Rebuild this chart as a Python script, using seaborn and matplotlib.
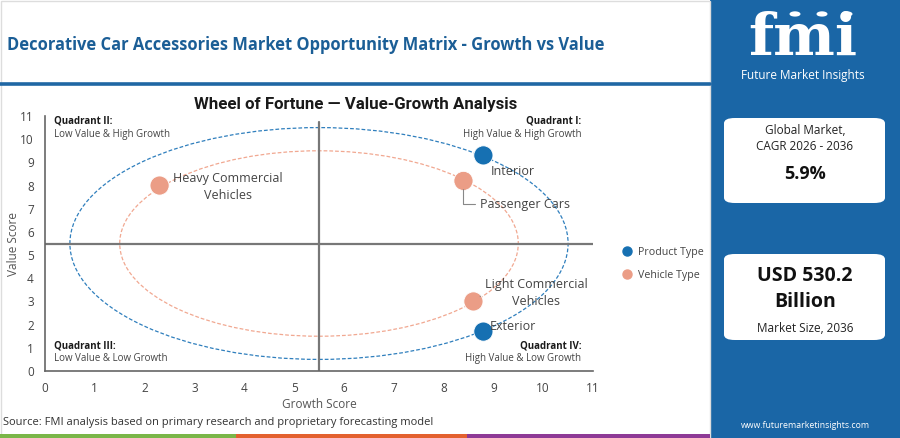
'''
Opportunity matrix (growth vs value) for decorative car accessories
'''
import matplotlib
matplotlib.use('Agg')
import matplotlib.pyplot as plt
from matplotlib.patches import Circle, Rectangle, FancyBboxPatch
from matplotlib.lines import Line2D
import seaborn as sns
import pandas as pd

sns.set_theme(style='white')
plt.rcParams['font.family'] = ['Open Sans', 'DejaVu Sans']

# data
segments = ['Interior', 'Exterior', 'Passenger Cars',
            'Light Commercial\nVehicles', 'Heavy Commercial\nVehicles']
groups = ['Product Type', 'Product Type', 'Vehicle Type',
          'Vehicle Type', 'Vehicle Type']
growth_scores = [8.8, 8.8, 8.4, 8.6, 2.3]
value_scores = [9.3, 1.7, 8.2, 3.0, 8.0]

# label anchors (data units)
label_x = [8.94, 8.92, 8.73, 9.86, 3.67]
label_y = [8.62, 1.94, 7.20, 3.36, 7.93]
label_ha = ['left', 'left', 'left', 'center', 'center']
label_leader = [False, False, True, True, False]

group_names = ['Product Type', 'Vehicle Type']
group_colors = ['#1670b2', '#eb9d86']
ring_colors = ['#2f7fbd', '#f1a891']
ring_radius = [5.0, 4.0]
midpoint = 5.5
ticks = list(range(0, 12))

quadrant_titles = ['Quadrant I:', 'Quadrant II:', 'Quadrant III:', 'Quadrant IV:']
quadrant_notes = ['High Value & High Growth', 'Low Value & High Growth',
                  'Low Value & Low Growth', 'High Value & Low Growth']

df = pd.DataFrame({'Segment': segments, 'Group': groups,
                   'Growth': growth_scores, 'Value': value_scores})

fig = plt.figure(figsize=(9, 4.38), dpi=100)
fig.patch.set_facecolor('white')

# side panel and header decoration
fig.add_artist(Rectangle((710 / 900, 0), 190 / 900, 1, transform=fig.transFigure,
                         facecolor='#1a66a6', edgecolor='none', zorder=0))
fig.add_artist(Rectangle((0.001, 0.001), 709 / 900, 0.997, transform=fig.transFigure,
                         facecolor='none', edgecolor='#dddddd', lw=1, zorder=0))
fig.add_artist(Line2D([0, 710 / 900], [1 - 84 / 438] * 2, transform=fig.transFigure,
                      color='#1f67a4', lw=2.6))
strip = [('#7ab648', 0, 236), ('#e3612f', 236, 467), ('#8e3a96', 467, 710)]
for col, x0, x1 in strip:
    fig.add_artist(Rectangle((x0 / 900, 0), (x1 - x0) / 900, 4.5 / 438,
                             transform=fig.transFigure, facecolor=col,
                             edgecolor='none'))

fig.text(7 / 900, 1 - 45 / 438,
         'Decorative Car Accessories Market Opportunity Matrix - Growth vs Value',
         color='#1b5e96', fontsize=11.9, fontweight='bold', va='center', ha='left')
fig.text(356 / 900, 1 - 105 / 438, 'Wheel of Fortune \u2014 Value-Growth Analysis',
         family=['Roboto', 'DejaVu Sans'], fontsize=12.2, fontweight='bold',
         color='#1a1a1a', ha='center', va='center')
fig.text(3 / 900, 1 - 422 / 438,
         'Source: FMI analysis based on primary research and proprietary forecasting model',
         fontsize=8, color='#333333', va='center', ha='left')

# logo
fig.text(803 / 900, 1 - 55 / 438, 'fmi', family=['DejaVu Serif'], fontsize=42,
         fontweight='bold', color='white', ha='center', va='baseline')
for yy in range(17, 58, 4):
    fig.add_artist(Line2D([730 / 900, 880 / 900], [1 - yy / 438] * 2,
                          transform=fig.transFigure, color='#1a66a6', lw=0.9))
for cx in [795, 822, 847]:
    fig.add_artist(Circle((cx / 900, 1 - 14 / 438), 5.5 / 900, transform=fig.transFigure,
                          facecolor='white', edgecolor='none'))
fig.text(803 / 900, 1 - 75 / 438, 'Future Market Insights', fontsize=8.5,
         color='white', ha='center', va='center')

# KPI boxes
for y0, y1 in [(118, 203), (254, 340)]:
    fig.add_artist(FancyBboxPatch((724 / 900, 1 - y1 / 438), 161 / 900, (y1 - y0) / 438,
                                  boxstyle='round,pad=0,rounding_size=0.012',
                                  transform=fig.transFigure, facecolor='white',
                                  edgecolor='none'))
fig.text(805 / 900, 1 - 131 / 438, 'Global Market,', fontsize=8.5, color='#222222',
         ha='center', va='center')
fig.text(805 / 900, 1 - 147 / 438, 'CAGR 2026 - 2036', fontsize=8.5, color='#222222',
         ha='center', va='center')
fig.text(805 / 900, 1 - 174 / 438, '5.9%', fontsize=13, fontweight='bold',
         color='#111111', ha='center', va='center')
fig.text(805 / 900, 1 - 276 / 438, 'USD 530.2', fontsize=14, fontweight='bold',
         color='#111111', ha='center', va='center')
fig.text(805 / 900, 1 - 302 / 438, 'Billion', fontsize=14, fontweight='bold',
         color='#111111', ha='center', va='center')
fig.text(805 / 900, 1 - 328 / 438, 'Market Size, 2036', fontsize=8.5, color='#222222',
         ha='center', va='center')
fig.text(805 / 900, 1 - 426 / 438, 'www.futuremarketinsights.com', fontsize=6.3,
         color='white', ha='center', va='center')

# main axes
ax = fig.add_axes([45 / 900, 1 - 371 / 438, 548 / 900, 255 / 438])
ax.set_xlim(0, 11)
ax.set_ylim(0, 11)

for r, col in zip(ring_radius, ring_colors):
    ax.add_patch(Circle((midpoint, midpoint), r, facecolor='none', edgecolor=col,
                        lw=0.9, ls=(0, (3, 1.6)), zorder=1))

ax.axhline(midpoint, color='#777777', lw=1.6, zorder=2)
ax.axvline(midpoint, ymax=0.975, color='#777777', lw=1.6, zorder=2)

sns.scatterplot(data=df, x='Growth', y='Value', hue='Group',
                hue_order=group_names, palette=group_colors, s=190,
                edgecolor='white', linewidth=0.6, legend=False, ax=ax, zorder=4)

for i, seg in enumerate(segments):
    props = None
    if label_leader[i]:
        props = dict(arrowstyle='-', color='#888888', lw=0.8, shrinkA=1, shrinkB=6,
                     relpos=(0, 0.5),
                     connectionstyle='angle,angleA=0,angleB=90,rad=0'
                     if i == 2 else 'arc3')
    ax.annotate(seg, xy=(growth_scores[i], value_scores[i]),
                xytext=(label_x[i], label_y[i]), ha=label_ha[i], va='center',
                fontsize=9, color='#444444', linespacing=1.35, zorder=5,
                arrowprops=props)

q_x = [10.76, 0.18, 0.18, 10.76]
q_ha = ['right', 'left', 'left', 'right']
q_y = [10.78, 10.78, 1.08, 1.08]
for i in range(4):
    ax.text(q_x[i], q_y[i], quadrant_titles[i], fontsize=7, fontweight='bold',
            color='#1a1a1a', ha=q_ha[i], va='center')
    ax.text(q_x[i], q_y[i] - 0.56, quadrant_notes[i], fontsize=7,
            color='#444444', ha=q_ha[i], va='center')

ax.set_xticks(ticks)
ax.set_yticks(ticks)
ax.tick_params(axis='both', length=0, labelsize=8.5, colors='#444444', pad=8)
ax.set_xlabel('Growth Score', fontsize=8.5, color='#555555', labelpad=2)
ax.set_ylabel('Value Score', fontsize=8.5, color='#555555', labelpad=0)
for side in ['top', 'right']:
    ax.spines[side].set_visible(False)
for side in ['left', 'bottom']:
    ax.spines[side].set_color('#666666')
    ax.spines[side].set_linewidth(1.2)

handles = [Line2D([], [], marker='o', ls='', color=c, markersize=6.5, label=n)
           for n, c in zip(group_names, group_colors)]
ax.legend(handles=handles, loc='center left', bbox_to_anchor=(1.025, 0.42),
          frameon=False, fontsize=7.7, handletextpad=0.0, labelspacing=1.1,
          labelcolor='#444444')

fig.savefig('out.png', dpi=100)
